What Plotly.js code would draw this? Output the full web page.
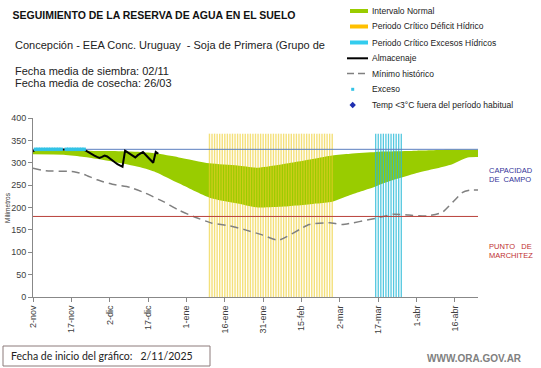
<!DOCTYPE html>
<html>
<head>
<meta charset="utf-8">
<script src="https://cdn.plot.ly/plotly-3.0.1.min.js"></script>
<style>html,body{margin:0;padding:0;background:#fff;}#chart{width:541px;height:368px;}</style>
</head>
<body>
<div id="chart"></div>
<script>
// ---------------- DATA ----------------
const tickDates = ['2025-11-02','2025-11-17','2025-12-02','2025-12-17','2026-01-01','2026-01-16','2026-01-31','2026-02-15','2026-03-02','2026-03-17','2026-04-01','2026-04-16'];
const tickLabels = ['2-nov','17-nov','2-dic','17-dic','1-ene','16-ene','31-ene','15-feb','2-mar','17-mar','1-abr','16-abr'];
const xRange = ['2025-11-02','2026-04-25'];

// Intervalo normal (band)
const bandDates = ['2025-11-02','2025-11-14','2025-11-22','2025-12-03','2025-12-14','2025-12-20','2025-12-29','2026-01-10','2026-01-21','2026-01-29','2026-02-08','2026-02-21','2026-02-27','2026-03-06','2026-03-16','2026-03-19','2026-04-01','2026-04-14','2026-04-21','2026-04-25'];
const bandLower = [319,318,313,303,290,279,254,222,209,200,202,209,213,228,247,254,277,295,312,313];
const bandUpper = [329,328,327,326,324,321,312,299,294,289,297,310,316,320,324,325,327,329,329,329];

// Mínimo histórico
const minDates = ['2025-11-02','2025-11-07','2025-11-18','2025-11-22','2025-11-27','2025-12-03','2025-12-10','2025-12-16','2025-12-23','2025-12-29','2026-01-05','2026-01-11','2026-01-18','2026-01-24','2026-01-30','2026-02-06','2026-02-18','2026-02-26','2026-03-03','2026-03-16','2026-03-23','2026-03-29','2026-04-05','2026-04-11','2026-04-19','2026-04-22','2026-04-25'];
const minValues = [288,282,280,274,262,252,245,232,213,194,177,165,159,150,140,127,162,166,162,176,185,183,181,189,234,239,239];

// Almacenaje (daily)
const almDates = ['2025-11-02','2025-11-03','2025-11-04','2025-11-05','2025-11-06','2025-11-07','2025-11-08','2025-11-09','2025-11-10','2025-11-11','2025-11-12','2025-11-13','2025-11-14','2025-11-15','2025-11-16','2025-11-17','2025-11-18','2025-11-19','2025-11-20','2025-11-21','2025-11-22','2025-11-23','2025-11-24','2025-11-25','2025-11-26','2025-11-27','2025-11-28','2025-11-29','2025-11-30','2025-12-01','2025-12-02','2025-12-03','2025-12-04','2025-12-05','2025-12-06','2025-12-07','2025-12-08','2025-12-09','2025-12-10','2025-12-11','2025-12-12','2025-12-13','2025-12-14','2025-12-15','2025-12-16','2025-12-17','2025-12-18','2025-12-19','2025-12-20','2025-12-21'];
const almValues = [325,330,330,330,330,330,330,330,330,330,330,330,330,330,330,330,330,330,330,330,329,326,322,319,316,313,311,313,316,314,309,305,301,297,293,291,327,323,319,315,312,317,321,324,318,312,306,300,324,320];

// Exceso
const excesoDates = ['2025-11-03','2025-11-04','2025-11-05','2025-11-06','2025-11-07','2025-11-08','2025-11-09','2025-11-10','2025-11-11','2025-11-12','2025-11-13','2025-11-15','2025-11-16','2025-11-17','2025-11-18','2025-11-19','2025-11-20','2025-11-21','2025-11-22'];
const excesoValues = [330,330,330,330,330,330,330,330,330,330,330,330,330,330,330,330,330,330,330];

// Periodos críticos
const deficitDates = ['2026-01-10','2026-01-11','2026-01-12','2026-01-13','2026-01-14','2026-01-15','2026-01-16','2026-01-17','2026-01-18','2026-01-19','2026-01-20','2026-01-21','2026-01-22','2026-01-23','2026-01-24','2026-01-25','2026-01-26','2026-01-27','2026-01-28','2026-01-29','2026-01-30','2026-01-31','2026-02-01','2026-02-02','2026-02-03','2026-02-04','2026-02-05','2026-02-06','2026-02-07','2026-02-08','2026-02-09','2026-02-10','2026-02-11','2026-02-12','2026-02-13','2026-02-14','2026-02-15','2026-02-16','2026-02-17','2026-02-18','2026-02-19','2026-02-20','2026-02-21','2026-02-22','2026-02-23','2026-02-24','2026-02-25','2026-02-26','2026-02-27'];
const excesoCritDates = ['2026-03-16','2026-03-17','2026-03-18','2026-03-19','2026-03-20','2026-03-21','2026-03-22','2026-03-23','2026-03-24','2026-03-25','2026-03-26'];
const criticalHeight = 365;

const capacidadCampo = 330;
const puntoMarchitez = 180;

// ---------------- LAYOUT HELPERS ----------------
const W = 541, H = 368, ML = 33, MR = 63, MT = 118, MB = 71;
const PW = W - ML - MR, PH = H - MT - MB;
const px = v => (v - ML) / PW;
const py = v => (H - MB - v) / PH;
const FONT = 'Liberation Sans, Arial, sans-serif';

function stripes(dates, h) {
  const x = [], y = [];
  dates.forEach(d => { x.push(d, d, null); y.push(0, h, null); });
  return {x, y};
}
const defS = stripes(deficitDates, criticalHeight);
const excS = stripes(excesoCritDates, criticalHeight);

const traces = [
  {x: bandDates, y: bandLower, type: 'scatter', mode: 'lines', line: {width: 0, shape: 'spline', smoothing: 0.6}, hoverinfo: 'skip', showlegend: false},
  {x: bandDates, y: bandUpper, type: 'scatter', mode: 'lines', fill: 'tonexty', fillcolor: '#99CC00', line: {width: 0, shape: 'spline', smoothing: 0.6}, name: 'Intervalo Normal', showlegend: false},
  {x: defS.x, y: defS.y, type: 'scatter', mode: 'lines', line: {color: 'rgba(238,205,40,0.62)', width: 1.4}, name: 'Periodo Crítico Déficit Hídrico', showlegend: false},
  {x: excS.x, y: excS.y, type: 'scatter', mode: 'lines', line: {color: 'rgba(40,185,215,0.8)', width: 1.3}, name: 'Periodo Crítico Excesos Hídricos', showlegend: false},
  {x: minDates, y: minValues, type: 'scatter', mode: 'lines', line: {color: '#808080', width: 1.5, dash: '8px,5px', shape: 'spline', smoothing: 0.5}, name: 'Mínimo histórico', showlegend: false},
  {x: xRange, y: [capacidadCampo, capacidadCampo], type: 'scatter', mode: 'lines', line: {color: '#5B7FC0', width: 1}, showlegend: false, hoverinfo: 'skip'},
  {x: xRange, y: [puntoMarchitez, puntoMarchitez], type: 'scatter', mode: 'lines', line: {color: '#B8403A', width: 1}, showlegend: false, hoverinfo: 'skip'},
  {x: almDates, y: almValues, type: 'scatter', mode: 'lines', line: {color: '#000', width: 2}, name: 'Almacenaje', showlegend: false},
  {x: excesoDates, y: excesoValues, type: 'scatter', mode: 'markers', marker: {symbol: 'square', size: 3.5, color: '#33C3E6'}, name: 'Exceso', showlegend: false}
];

// custom legend
const legendItems = [
  {y: 11, text: 'Intervalo Normal'},
  {y: 26.5, text: 'Periodo Crítico Déficit Hídrico'},
  {y: 42.5, text: 'Periodo Crítico Excesos Hídricos'},
  {y: 58.3, text: 'Almacenaje'},
  {y: 73.5, text: 'Mínimo histórico'},
  {y: 89.3, text: 'Exceso'},
  {y: 105, text: 'Temp <3°C fuera del período habitual'}
];
const shapes = [
  {type: 'line', xref: 'paper', yref: 'paper', x0: px(350), x1: px(368), y0: py(11), y1: py(11), line: {color: '#99CC00', width: 4}},
  {type: 'line', xref: 'paper', yref: 'paper', x0: px(350), x1: px(368), y0: py(26.5), y1: py(26.5), line: {color: '#FFC000', width: 4}},
  {type: 'line', xref: 'paper', yref: 'paper', x0: px(350), x1: px(368), y0: py(42.5), y1: py(42.5), line: {color: '#33CCEE', width: 4}},
  {type: 'line', xref: 'paper', yref: 'paper', x0: px(347), x1: px(368), y0: py(58.3), y1: py(58.3), line: {color: '#000', width: 2}},
  {type: 'line', xref: 'paper', yref: 'paper', x0: px(347), x1: px(368), y0: py(73.5), y1: py(73.5), line: {color: '#808080', width: 1.5, dash: '7px,4px'}},
  {type: 'rect', xref: 'paper', yref: 'paper', x0: px(351.2), x1: px(354.2), y0: py(87.8), y1: py(90.8), fillcolor: '#33C3E6', line: {width: 0}},
  {type: 'path', xref: 'paper', yref: 'paper', path: `M ${px(352.7)} ${py(101.8)} L ${px(355.9)} ${py(105)} L ${px(352.7)} ${py(108.2)} L ${px(349.5)} ${py(105)} Z`, fillcolor: '#1F2FB0', line: {width: 0}},
  {type: 'rect', xref: 'paper', yref: 'paper', x0: px(3), x1: px(210), y0: py(346), y1: py(366), fillcolor: '#fff', line: {color: '#8C7B7B', width: 1}}
];

const ann = (x, y, text, opts) => Object.assign({xref: 'paper', yref: 'paper', x: px(x), y: py(y), text, showarrow: false, xanchor: 'left', yanchor: 'middle', font: {family: FONT, size: 8.5, color: '#222'}}, opts || {});

const annotations = legendItems.map(it => ann(369.5, it.y, it.text));
annotations.push(
  ann(12.5, 45, 'Concepción - EEA Conc. Uruguay  - Soja de Primera (Grupo de', {font: {family: FONT, size: 11, color: '#222'}}),
  ann(12.5, 71.5, 'Fecha media de siembra: 02/11', {font: {family: FONT, size: 11, color: '#222'}}),
  ann(12.5, 83.3, 'Fecha media de cosecha: 26/03', {font: {family: FONT, size: 11, color: '#222'}}),
  ann(486.5, 170.7, 'CAPACIDAD', {font: {family: FONT, size: 7.5, color: '#333399'}}),
  ann(486.5, 179.3, 'DE\u00a0\u00a0CAMPO', {font: {family: FONT, size: 7.5, color: '#333399'}}),
  ann(486.5, 246.7, 'PUNTO\u00a0\u00a0\u00a0DE', {font: {family: FONT, size: 7.5, color: '#C03030'}}),
  ann(486.5, 255.2, 'MARCHITEZ', {font: {family: FONT, size: 7.5, color: '#C03030'}}),
  ann(8.5, 356, 'Fecha de inicio del gráfico:\u00a0\u00a0 2/11/2025', {font: {family: 'Lato, Liberation Sans, sans-serif', size: 10.5, color: '#222'}}),
  ann(474, 358.5, '<b>WWW.ORA.GOV.AR</b>', {xanchor: 'center', font: {family: FONT, size: 10, color: '#808080'}}),
  ann(7, 208, 'Milímetros', {xanchor: 'center', textangle: -90, font: {family: FONT, size: 6.5, color: '#333'}})
);

const layout = {
  width: W, height: H,
  margin: {l: ML, r: MR, t: MT, b: MB, pad: 0},
  paper_bgcolor: '#fff', plot_bgcolor: '#fff',
  showlegend: false,
  title: {text: '<b>SEGUIMIENTO DE LA RESERVA DE AGUA EN EL SUELO</b>', font: {family: FONT, size: 10.5, color: '#111'}, xref: 'container', yref: 'container', x: 12.5 / W, xanchor: 'left', y: 1 - 15 / H, yanchor: 'middle'},
  xaxis: {type: 'date', range: xRange, tickmode: 'array', tickvals: tickDates, ticktext: tickLabels, tickangle: -90,
    showgrid: false, zeroline: false, showline: true, linecolor: '#888', linewidth: 1, ticks: 'outside', ticklen: 4, tickcolor: '#888',
    tickfont: {family: FONT, size: 9, color: '#404040'}},
  yaxis: {range: [0, 400], dtick: 50, tick0: 0, showgrid: false, zeroline: false, showline: true, linecolor: '#888', linewidth: 1,
    ticks: 'outside', ticklen: 4, tickcolor: '#888', tickfont: {family: FONT, size: 9, color: '#404040'}},
  shapes, annotations
};

Plotly.newPlot('chart', traces, layout, {staticPlot: true, displayModeBar: false});
</script>
</body>
</html>
